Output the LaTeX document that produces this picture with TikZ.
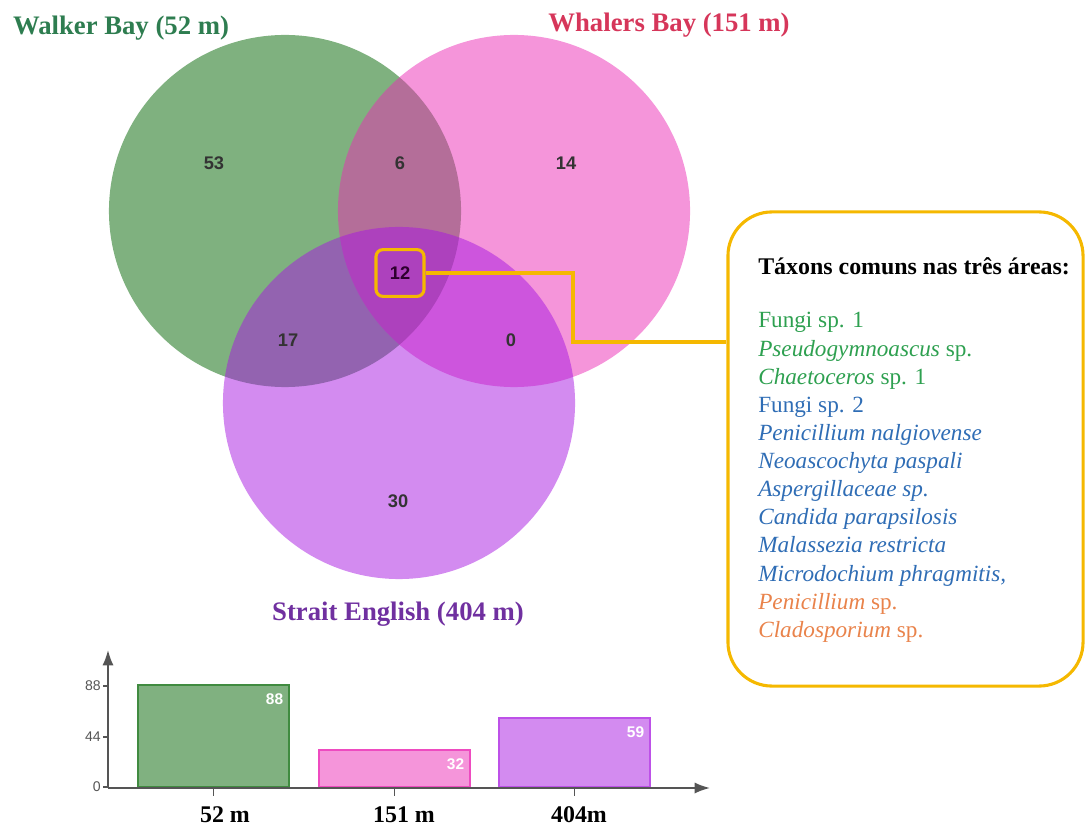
\documentclass[tikz,border=0pt]{standalone}
\usepackage{fontspec}
\setmainfont{Liberation Serif}
\setsansfont{Liberation Sans}
\usetikzlibrary{arrows.meta,positioning}

\definecolor{walkerc}{RGB}{0,100,0}
\definecolor{whalersc}{RGB}{235,43,181}
\definecolor{straitc}{RGB}{167,23,225}
\definecolor{walkertxt}{RGB}{46,125,80}
\definecolor{whalerstxt}{RGB}{214,54,90}
\definecolor{straittxt}{RGB}{112,48,160}
\definecolor{gold}{RGB}{245,184,0}
\definecolor{taxgreen}{RGB}{46,160,80}
\definecolor{taxblue}{RGB}{47,109,181}
\definecolor{taxorange}{RGB}{233,131,75}
\definecolor{axisgray}{RGB}{85,85,85}

\begin{document}
\begin{tikzpicture}[
    x=0.025cm,y=-0.025cm,
    venn/.style={circle,minimum size=8.8cm,inner sep=0pt,draw=none,fill opacity=0.5},
    setlabel/.style={font=\bfseries\fontsize{19}{22}\selectfont},
    count/.style={font=\sffamily\bfseries\fontsize{13}{15}\selectfont,text=black!80},
    hilite/.style={draw=gold,line width=2.2pt,rounded corners=5pt,
        minimum width=1.2cm,minimum height=1.17cm,text=black!40!violet!60!black},
    link/.style={draw=gold,line width=2.2pt},
    taxabox/.style={draw=gold,line width=2.2pt,rounded corners=1.1cm,
        minimum width=8.875cm,minimum height=11.85cm},
    axis/.style={draw=axisgray,line width=1.3pt},
    bar/.style={anchor=south west,minimum width=3.775cm,inner sep=0pt,line width=1.3pt},
    barval/.style={anchor=north east,inner sep=0pt,text=white,
        font=\sffamily\bfseries\fontsize{11}{13}\selectfont},
    ticklabel/.style={anchor=east,inner sep=0pt,text=axisgray,
        font=\sffamily\fontsize{10}{12}\selectfont},
    xlabel/.style={font=\bfseries\fontsize{17}{20}\selectfont}
]
\path[use as bounding box] (0,0) rectangle (1085,826);

% Venn diagram
\node[venn,fill=walkerc] (walker) at (285,211) {};
\node[venn,fill=whalersc] (whalers) at (514,211) {};
\node[venn,fill=straitc] (strait) at (399,403) {};

\node[setlabel,text=walkertxt] (walkerlbl) at (121,28) {Walker Bay (52 m)};
\node[setlabel,text=whalerstxt] (whalerslbl) at (669,25) {Whalers Bay (151 m)};
\node[setlabel,text=straittxt] (straitlbl) at (398,614) {Strait English (404 m)};

\node[count] (c53) at (214,163) {53};
\node[count] (c6) at (400,163) {6};
\node[count] (c14) at (566,163) {14};
\node[count] (c17) at (288,340) {17};
\node[count] (c0) at (511,340) {0};
\node[count] (c30) at (398,501) {30};
\node[count,hilite] (c12) at (400,273) {12};

% common taxa
\node[taxabox] (taxa) at (905.5,449) {};
\node[anchor=west,align=left,inner sep=0pt,font=\fontsize{16.5}{20}\selectfont]
    (taxalist) at (758,450) {%
    {\bfseries\fontsize{17}{20}\selectfont Táxons comuns nas três áreas:}\\[18pt]
    \textcolor{taxgreen}{Fungi sp. 1}\\
    \textcolor{taxgreen}{\textit{Pseudogymnoascus} sp.}\\
    \textcolor{taxgreen}{\textit{Chaetoceros} sp. 1}\\
    \textcolor{taxblue}{Fungi sp. 2}\\
    \textcolor{taxblue}{\textit{Penicillium nalgiovense}}\\
    \textcolor{taxblue}{\textit{Neoascochyta paspali}}\\
    \textcolor{taxblue}{\textit{Aspergillaceae sp.}}\\
    \textcolor{taxblue}{\textit{Candida parapsilosis}}\\
    \textcolor{taxblue}{\textit{Malassezia restricta}}\\
    \textcolor{taxblue}{\textit{Microdochium phragmitis,}}\\
    \textcolor{taxorange}{\textit{Penicillium} sp.}\\
    \textcolor{taxorange}{\textit{Cladosporium} sp.}};

\coordinate (bend) at (573,342);
\draw[link] (c12.east) -| (bend) -- (bend -| taxa.west);

% bar chart
\coordinate (origin) at (108,788);
\node[bar,fill=walkerc!50,draw=walkerc!75!white,minimum height=2.55cm] (bar52) at (137,788) {};
\node[bar,fill=whalersc!50,draw=whalersc!85!white,minimum height=0.925cm] (bar151) at (318,788) {};
\node[bar,fill=straitc!50,draw=straitc!75!white,minimum height=1.725cm] (bar404) at (498,788) {};

\node[barval] (v88) at ([xshift=-0.16cm,yshift=-0.24cm]bar52.north east) {88};
\node[barval] (v32) at ([xshift=-0.16cm,yshift=-0.24cm]bar151.north east) {32};
\node[barval] (v59) at ([xshift=-0.16cm,yshift=-0.24cm]bar404.north east) {59};

\draw[axis,-{Latex[length=11pt,width=8pt]}] (origin) -- (108,650);
\draw[axis,-{Latex[length=11pt,width=8pt]}] (origin) -- (710,788);

\foreach \v/\y in {0/787,44/737,88/686}{
    \node[ticklabel] (tick\v) at (101,\y) {\v};
    \draw[axis,line width=0.8pt] (103,\y) -- (108,\y);
}
\foreach \b in {bar52,bar151,bar404}
    \draw[axis,line width=0.8pt] (\b.south) -- ++(0,8);

\node[xlabel] (x52) at (225,815) {52 m};
\node[xlabel] (x151) at (404,815) {151 m};
\node[xlabel] (x404) at (579,815) {404m};
\end{tikzpicture}
\end{document}
